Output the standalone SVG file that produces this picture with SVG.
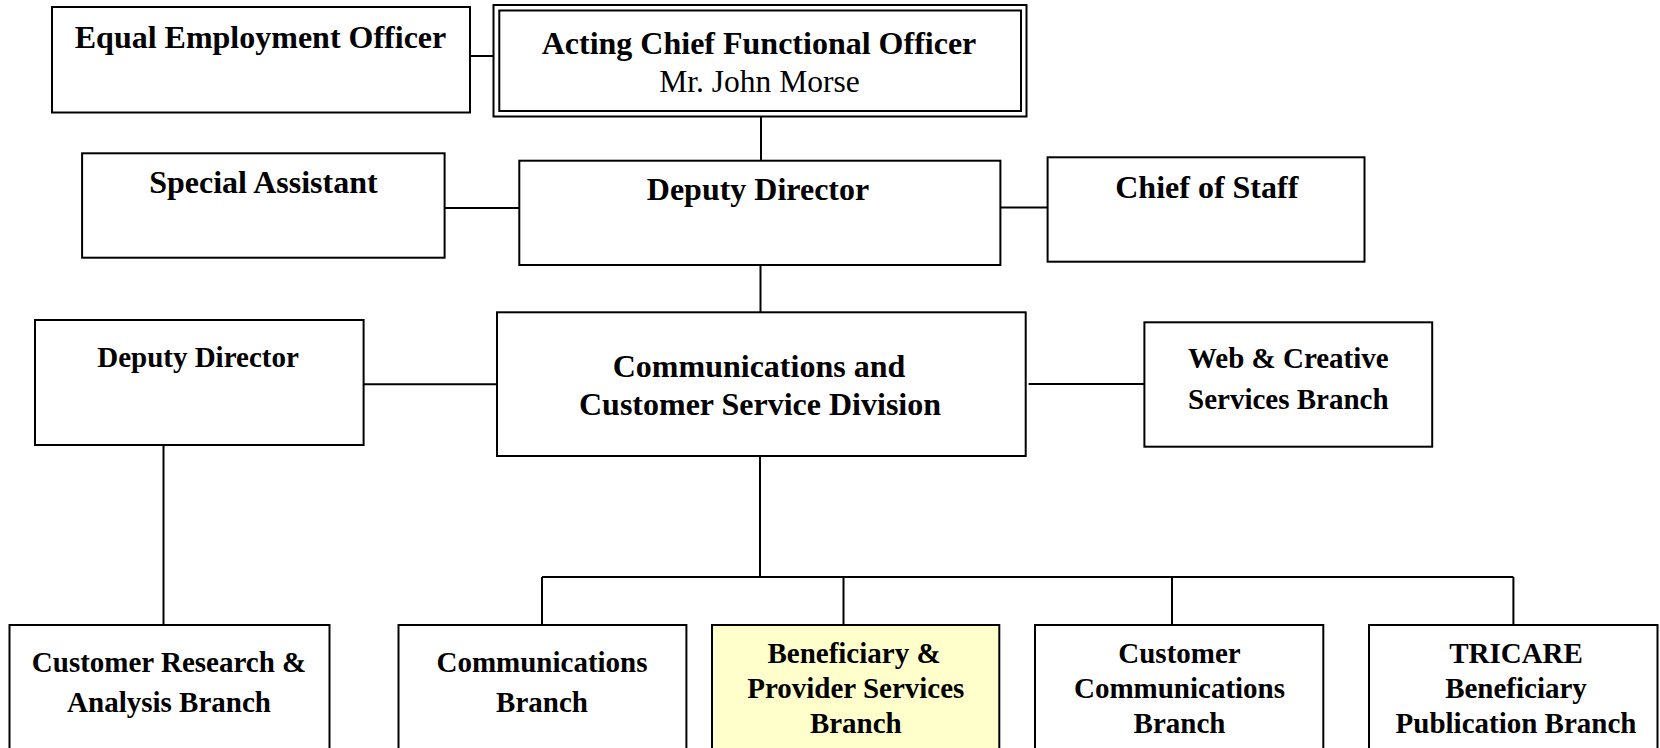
<svg xmlns="http://www.w3.org/2000/svg" width="1660" height="748" viewBox="0 0 1660 748">
<style>
.box{fill:#fff;stroke:#000;stroke-width:2}
.hl{fill:#ffffcc}
.ln{stroke:#000;stroke-width:2;fill:none}
text{font-family:"Liberation Serif","Times New Roman",serif;fill:#000;text-anchor:middle}
.b{font-weight:bold;font-size:32px}
.s{font-weight:bold;font-size:29px}
.r{font-size:31.5px}
</style>
<rect width="1660" height="748" fill="#fff"/>
<g id="connectors">
<path class="ln" d="M470 56H493.5"/>
<path class="ln" d="M761 117V160.7"/>
<path class="ln" d="M444.6 208H519.3"/>
<path class="ln" d="M1000.4 207.5H1047.6"/>
<path class="ln" d="M760.5 265V312.3"/>
<path class="ln" d="M363.6 384.3H497"/>
<path class="ln" d="M1028.6 384H1144.4"/>
<path class="ln" d="M163.5 445V625"/>
<path class="ln" d="M760 456V577"/>
<path class="ln" d="M542 577H1513.4"/>
<path class="ln" d="M542 577V625M843.5 577V625M1172 577V625M1513.4 577V625"/>
</g>
<g id="eeo">
<rect class="box" x="52" y="7" width="418" height="105.5"/>
<text class="b" x="260.5" y="47.5">Equal Employment Officer</text>
</g>
<g id="acfo">
<rect class="box" x="493.5" y="5" width="533" height="111.5"/>
<rect class="box" x="499.3" y="10.5" width="521.7" height="100.5"/>
<text class="b" x="759" y="54.3">Acting Chief Functional Officer</text>
<text class="r" x="759.5" y="91.7">Mr. John Morse</text>
</g>
<g id="special-assistant">
<rect class="box" x="82.1" y="153.3" width="362.5" height="104.4"/>
<text class="b" x="263.4" y="193.3">Special Assistant</text>
</g>
<g id="deputy-director">
<rect class="box" x="519.3" y="160.7" width="481.1" height="104.3"/>
<text class="b" x="758" y="200">Deputy Director</text>
</g>
<g id="chief-of-staff">
<rect class="box" x="1047.6" y="157.3" width="316.9" height="104.4"/>
<text class="b" x="1206.8" y="197.7">Chief of Staff</text>
</g>
<g id="deputy-director-2">
<rect class="box" x="35" y="320" width="328.6" height="125"/>
<text class="s" x="198" y="366.7">Deputy Director</text>
</g>
<g id="ccsd">
<rect class="box" x="497" y="312.3" width="528.7" height="143.7"/>
<text class="b" x="759" y="376.7">Communications and</text>
<text class="b" x="760" y="415">Customer Service Division</text>
</g>
<g id="web-creative">
<rect class="box" x="1144.4" y="322.3" width="287.8" height="124.4"/>
<text class="s" x="1288.3" y="368.3">Web &amp; Creative</text>
<text class="s" x="1288.3" y="409.3">Services Branch</text>
</g>
<g id="customer-research">
<rect class="box" x="9.5" y="625" width="320" height="140"/>
<text class="s" x="169" y="671.7">Customer Research &amp;</text>
<text class="s" x="169" y="711.7">Analysis Branch</text>
</g>
<g id="communications-branch">
<rect class="box" x="398.5" y="625" width="287.9" height="140"/>
<text class="s" x="542" y="671.7">Communications</text>
<text class="s" x="542" y="711.7">Branch</text>
</g>
<g id="beneficiary-provider">
<rect class="box hl" x="712" y="625" width="287.3" height="140"/>
<text class="s" x="854" y="663.3">Beneficiary &amp;</text>
<text class="s" x="855.8" y="698.3">Provider Services</text>
<text class="s" x="855.8" y="732.7">Branch</text>
</g>
<g id="customer-communications">
<rect class="box" x="1035" y="625" width="288.3" height="140"/>
<text class="s" x="1179.5" y="663.3">Customer</text>
<text class="s" x="1179.5" y="698.3">Communications</text>
<text class="s" x="1179.5" y="732.7">Branch</text>
</g>
<g id="tricare">
<rect class="box" x="1369" y="625" width="288.5" height="140"/>
<text class="s" x="1516" y="663.3">TRICARE</text>
<text class="s" x="1516" y="698.3">Beneficiary</text>
<text class="s" x="1516" y="732.7">Publication Branch</text>
</g>
</svg>
